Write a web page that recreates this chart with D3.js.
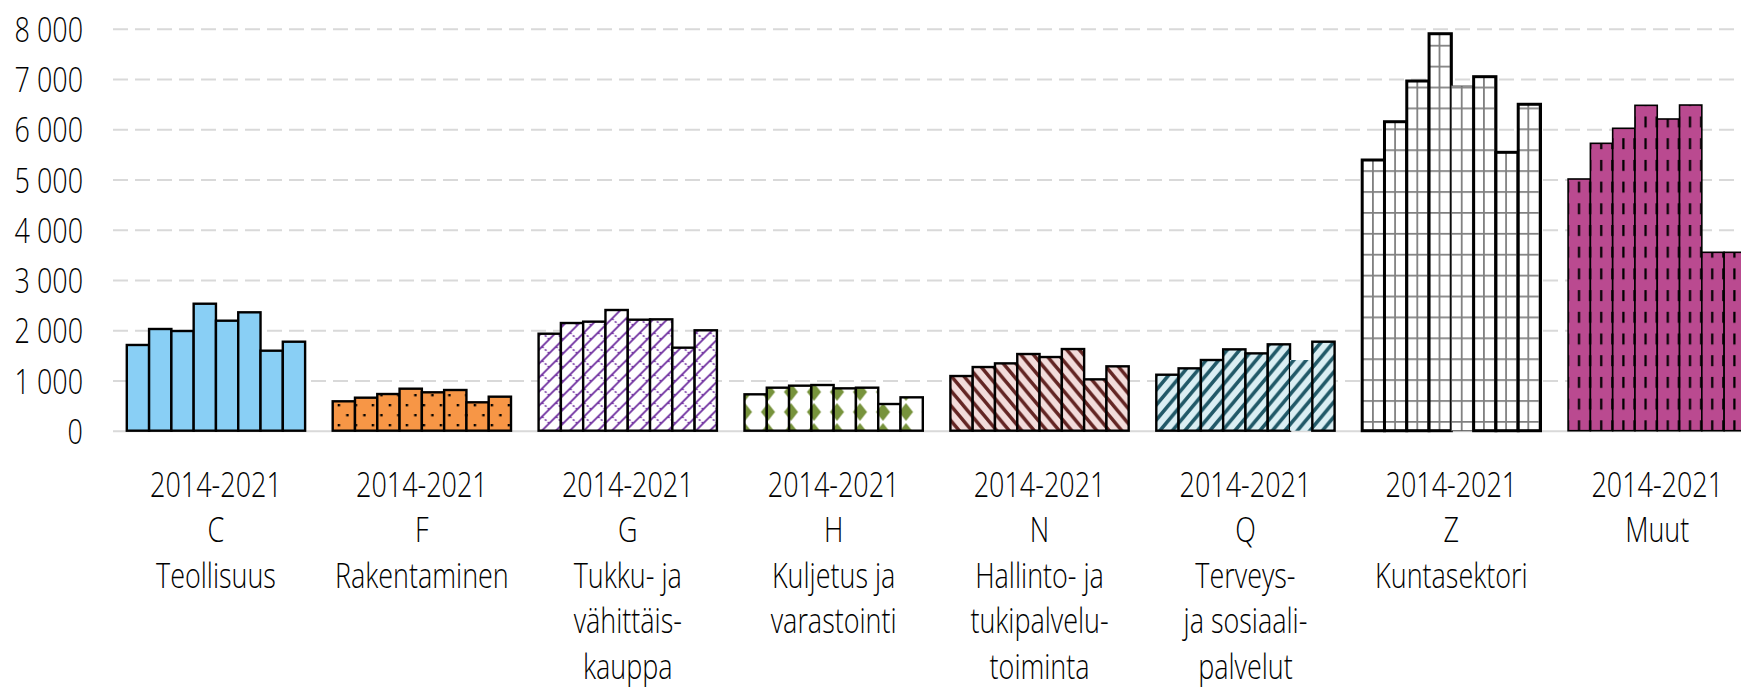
<!DOCTYPE html>
<html>
<head>
<meta charset="utf-8">
<script src="https://cdn.jsdelivr.net/npm/d3@7"></script>
<style>
  html, body { margin: 0; padding: 0; background: #fff; overflow: hidden; }
  text { font-family: "Open Sans", "Noto Sans", sans-serif; font-weight: 350; fill: #000; }
</style>
</head>
<body>
<svg id="chart"></svg>
<script>
// data
var years = [2014, 2015, 2016, 2017, 2018, 2019, 2020, 2021];
var categories = ["C", "F", "G", "H", "N", "Q", "Z", "Muut"];
var labelLines = [
  ["C", "Teollisuus"],
  ["F", "Rakentaminen"],
  ["G", "Tukku- ja", "vähittäis-", "kauppa"],
  ["H", "Kuljetus ja", "varastointi"],
  ["N", "Hallinto- ja", "tukipalvelu-", "toiminta"],
  ["Q", "Terveys-", "ja sosiaali-", "palvelut"],
  ["Z", "Kuntasektori"],
  ["Muut"]
];
var periodLabel = "2014-2021";
var valuesC = [1706, 2024, 1984, 2527, 2189, 2356, 1592, 1771];
var valuesF = [585, 657, 730, 836, 764, 810, 565, 677];
var valuesG = [1930, 2143, 2170, 2402, 2209, 2216, 1652, 1998];
var valuesH = [724, 856, 896, 909, 843, 856, 531, 664];
var valuesN = [1088, 1267, 1340, 1526, 1466, 1625, 1022, 1281];
var valuesQ = [1114, 1241, 1407, 1619, 1539, 1719, 1407, 1771];
var valuesZ = [5387, 6149, 6959, 7900, 6860, 7045, 5540, 6496];
var valuesMuut = [5009, 5719, 6018, 6475, 6203, 6481, 3550, 3550];
var yTicks = [0, 1000, 2000, 3000, 4000, 5000, 6000, 7000, 8000];

var allValues = [valuesC, valuesF, valuesG, valuesH, valuesN, valuesQ, valuesZ, valuesMuut];

var W = 1741, H = 688;
var left = 113;
var sx = 0.77; // narrow text

var svg = d3.select("#chart").attr("width", W).attr("height", H);

// patterns
var defs = svg.append("defs");

var pF = defs.append("pattern").attr("id", "pF").attr("patternUnits", "userSpaceOnUse")
  .attr("width", 17).attr("height", 20).attr("x", 4).attr("y", 3);
pF.append("rect").attr("width", 17).attr("height", 20).attr("fill", "#F79646");
pF.append("rect").attr("x", 1).attr("y", 1).attr("width", 2.4).attr("height", 2.4).attr("fill", "#000");
pF.append("rect").attr("x", 9.5).attr("y", 11).attr("width", 2.4).attr("height", 2.4).attr("fill", "#000");

var pG = defs.append("pattern").attr("id", "pG").attr("patternUnits", "userSpaceOnUse")
  .attr("width", 14).attr("height", 14);
pG.append("rect").attr("width", 14).attr("height", 14).attr("fill", "#fff");
pG.append("path").attr("d", "M-2,16 L16,-2 M-2,2 L2,-2 M12,16 L16,12")
  .attr("stroke", "#7030A0").attr("stroke-width", 1.8);
pG.append("path").attr("d", "M3.5,10.5 L10.5,17.5 M3.5,-3.5 L10.5,3.5")
  .attr("stroke", "#7030A0").attr("stroke-width", 1.6).attr("stroke-dasharray", "2,2");

var pH = defs.append("pattern").attr("id", "pH").attr("patternUnits", "userSpaceOnUse")
  .attr("width", 23).attr("height", 20).attr("x", 748).attr("y", 2);
pH.append("rect").attr("width", 23).attr("height", 20).attr("fill", "#fff");
pH.append("path").attr("d", "M11.5,1 L18.5,10 L11.5,19 L4.5,10 Z").attr("fill", "#77933C");

var pN = defs.append("pattern").attr("id", "pN").attr("patternUnits", "userSpaceOnUse")
  .attr("width", 12.5).attr("height", 15);
pN.append("rect").attr("width", 12.5).attr("height", 15).attr("fill", "#F2DCDB");
pN.append("path").attr("d", "M-2.5,-3 L15,18 M-2.5,12 L2.5,18 M10,-3 L15,3")
  .attr("stroke", "#632523").attr("stroke-width", 3.4);

var pQ = defs.append("pattern").attr("id", "pQ").attr("patternUnits", "userSpaceOnUse")
  .attr("width", 12.5).attr("height", 15);
pQ.append("rect").attr("width", 12.5).attr("height", 15).attr("fill", "#DAEEF3");
pQ.append("path").attr("d", "M-2.5,18 L15,-3 M-2.5,3 L2.5,-3 M10,18 L15,12")
  .attr("stroke", "#215968").attr("stroke-width", 3.6);

var pZ = defs.append("pattern").attr("id", "pZ").attr("patternUnits", "userSpaceOnUse")
  .attr("width", 11.1).attr("height", 20.9).attr("x", 1364).attr("y", 3);
pZ.append("rect").attr("width", 11.1).attr("height", 20.9).attr("fill", "#fff");
pZ.append("path").attr("d", "M0.9,0 V20.9 M0,0.9 H11.1")
  .attr("stroke", "#808080").attr("stroke-width", 1.8);

var pM = defs.append("pattern").attr("id", "pM").attr("patternUnits", "userSpaceOnUse")
  .attr("width", 11.1).attr("height", 21.7).attr("x", 1571).attr("y", 8);
pM.append("rect").attr("width", 11.1).attr("height", 21.7).attr("fill", "#BA4A90");
pM.append("path").attr("d", "M5,0 V11").attr("stroke", "#000").attr("stroke-width", 2.2);

var fills = ["#89CFF5", "url(#pF)", "url(#pG)", "url(#pH)", "url(#pN)", "url(#pQ)", "url(#pZ)", "url(#pM)"];
var strokeW = [2.4, 2.4, 2.4, 2.4, 2.4, 2.4, 3, 1.6];

// scales
var y = d3.scaleLinear().domain([0, 8000]).range([430.7, 28.7]);

var x0 = d3.scaleBand()
  .domain(categories)
  .range([left, left + 8 * 205.9])
  .paddingInner(0.134)
  .paddingOuter(0.067);

var x1 = d3.scaleBand()
  .domain(years)
  .range([0, x0.bandwidth()]);

var fmt = d3.formatLocale({ decimal: ",", thousands: " ", grouping: [3], currency: ["", ""] }).format(",");

// y axis + gridlines
var yAxis = svg.append("g")
  .attr("transform", "translate(" + left + ",0)")
  .call(d3.axisLeft(y).tickValues(yTicks).tickSize(-(W - left)).tickPadding(0).tickFormat(fmt));

yAxis.select(".domain").remove();
yAxis.selectAll(".tick line")
  .attr("stroke", "#d9d9d9")
  .attr("stroke-width", 2)
  .attr("stroke-dasharray", function (d) { return d === 0 ? null : "15,7"; });
yAxis.selectAll(".tick text")
  .attr("x", -30 / sx)
  .attr("dy", "0.36em")
  .attr("transform", "scale(" + sx + ",1)")
  .style("font-size", "35px")
  .style("font-family", "'Open Sans', sans-serif")
  .style("font-weight", 350)
  .attr("fill", "#000");

// bars
var groups = svg.append("g").selectAll("g")
  .data(categories)
  .enter().append("g")
  .attr("transform", function (d) { return "translate(" + x0(d) + ",0)"; });

groups.each(function (cat, ci) {
  d3.select(this).selectAll("rect")
    .data(years.map(function (yr, i) { return { year: yr, value: allValues[ci][i] }; }))
    .enter().append("rect")
    .attr("x", function (d) { return x1(d.year); })
    .attr("y", function (d) { return y(d.value); })
    .attr("width", x1.bandwidth())
    .attr("height", function (d) { return y(0) - y(d.value); })
    .attr("fill", fills[ci])
    .attr("stroke", function (d) {
      if (cat === "Q" && d.year === 2020) return "none";
      if (cat === "Z" && d.year === 2018) return "#555";
      return "#000";
    })
    .attr("stroke-width", function (d) {
      if (cat === "Z" && d.year === 2018) return 1;
      return strokeW[ci];
    });
});

// category labels
var lineY = [497, 542.5, 588, 633.5, 679];
var labels = svg.append("g").selectAll("g")
  .data(categories)
  .enter().append("g")
  .attr("transform", function (d) {
    return "translate(" + (x0(d) + x0.bandwidth() / 2) + ",0) scale(" + sx + ",1)";
  });

labels.each(function (cat, ci) {
  var lines = [periodLabel].concat(labelLines[ci]);
  d3.select(this).selectAll("text")
    .data(lines)
    .enter().append("text")
    .attr("x", 0)
    .attr("y", function (d, i) { return lineY[i]; })
    .attr("text-anchor", "middle")
    .style("font-size", "35px")
    .text(function (d) { return d; });
});
</script>
</body>
</html>
